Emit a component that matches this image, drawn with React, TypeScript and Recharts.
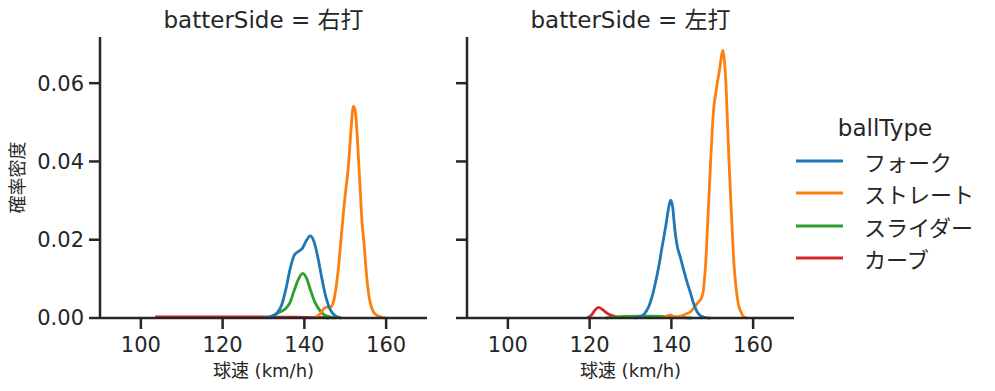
import React from "react";
import { Label, Line, LineChart, XAxis, YAxis } from "recharts";

// ball types in legend order, tab10 colours
const BALL_TYPES = ["フォーク", "ストレート", "スライダー", "カーブ"];
const COLORS = ["#1f77b4", "#ff7f0e", "#2ca02c", "#d62728"];

const X_TICKS = [100, 120, 140, 160];
const Y_TICKS = [0, 0.02, 0.04, 0.06];

type Pt = { speed: number; density: number };
const pts = (rows: number[][]): Pt[] => rows.map(([speed, density]) => ({ speed, density }));

// batterSide = 右打
const rightFork = pts([
  [130, 0.0001], [132, 0.0004], [133.5, 0.0015], [134.5, 0.0035], [135.5, 0.0075],
  [136.5, 0.0125], [137.5, 0.016], [138.5, 0.017], [139.5, 0.0178], [140.5, 0.0198],
  [141.4, 0.021], [142.3, 0.0197], [143.3, 0.0155], [144.3, 0.01], [145.3, 0.0052],
  [146.3, 0.0022], [147.5, 0.0006], [149, 0],
]);
const rightStraight = pts([
  [142.5, 0.0001], [143.8, 0.001], [144.8, 0.0024], [145.5, 0.0028], [146.2, 0.0026],
  [146.8, 0.0032], [147.4, 0.0055], [147.9, 0.0089], [148.4, 0.0135], [148.8, 0.0182],
  [149.3, 0.024], [149.7, 0.0285], [150.1, 0.0325], [150.5, 0.036], [150.9, 0.0405],
  [151.4, 0.048], [152.0, 0.0541], [152.5, 0.0525], [152.9, 0.047], [153.3, 0.0395],
  [153.7, 0.032], [154.1, 0.0245], [154.6, 0.019], [155.0, 0.0135], [155.4, 0.009],
  [155.9, 0.005], [156.5, 0.0025], [157.3, 0.001], [158.9, 0.0002], [160, 0],
]);
const rightSlider = pts([
  [132, 0.0005], [134, 0.0015], [135.5, 0.0025], [136.5, 0.004], [137.5, 0.007],
  [138.5, 0.0098], [139.6, 0.0114], [140.6, 0.01], [141.6, 0.0068], [142.6, 0.004],
  [143.6, 0.0022], [144.6, 0.001], [145.8, 0.0004], [147.5, 0],
]);
const rightCurve = pts([
  [103.5, 0.0003], [110, 0.0003], [120, 0.0003], [130, 0.0003], [138, 0.0002],
  [145, 0.0001], [146, 0],
]);

// batterSide = 左打
const leftFork = pts([
  [131, 0], [132.5, 0.0004], [133.5, 0.0012], [134.5, 0.003], [135.3, 0.0055],
  [136.1, 0.009], [136.9, 0.0131], [137.7, 0.018], [138.6, 0.0233], [139.3, 0.028],
  [139.8, 0.0301], [140.3, 0.0285], [140.8, 0.023], [141.4, 0.0185], [142.2, 0.0155],
  [143.0, 0.0123], [143.8, 0.0093], [144.7, 0.0063], [145.5, 0.0035], [146.3, 0.0016],
  [147.2, 0.0005], [148.4, 0.0001], [149.5, 0],
]);
const leftStraight = pts([
  [137.5, 0], [138.5, 0.0003], [139.3, 0.0007], [139.8, 0.0008], [140.4, 0.0004],
  [141.3, 0.0003], [142.3, 0.0005], [143.5, 0.001], [144.7, 0.0016], [145.8, 0.003],
  [146.7, 0.0042], [147.3, 0.005], [147.8, 0.0068], [148.1, 0.01], [148.4, 0.014],
  [148.8, 0.0225], [149.2, 0.031], [149.6, 0.04], [150.0, 0.048], [150.4, 0.054],
  [150.8, 0.057], [151.2, 0.0599], [151.8, 0.0635], [152.3, 0.0672], [152.6, 0.0684],
  [152.9, 0.0665], [153.3, 0.0608], [153.8, 0.048], [154.1, 0.04], [154.5, 0.031],
  [154.9, 0.022], [155.3, 0.014], [155.7, 0.009], [156.1, 0.0054], [156.5, 0.003],
  [157.0, 0.0016], [157.7, 0.0003], [158.5, 0],
]);
const leftSlider = pts([
  [124, 0], [126, 0.0002], [129, 0.0004], [132, 0.0005], [135, 0.0005],
  [138, 0.0004], [141, 0.0003], [143, 0.0001], [145, 0],
]);
const leftCurve = pts([
  [119.5, 0.0001], [120.5, 0.0008], [121.3, 0.002], [122.2, 0.0027], [123.2, 0.0021],
  [124.3, 0.0012], [125.5, 0.0006], [126.5, 0.0003], [127.5, 0],
]);

const FONT = "'DejaVu Sans', 'Noto Sans CJK JP', sans-serif";
const CJK = "'Noto Sans CJK JP', sans-serif";
const INK = "#262626";
const tickStyle = { fontSize: 21, fill: INK, fontFamily: FONT };

const YLabel = ({ viewBox }: any) => {
  const cx = 16;
  const cy = viewBox.y + viewBox.height / 2;
  return (
    <text
      x={cx}
      y={cy}
      transform={`rotate(-90 ${cx} ${cy})`}
      textAnchor="middle"
      dominantBaseline="central"
      fontSize={18}
      fill={INK}
      fontFamily={CJK}
    >
      確率密度
    </text>
  );
};

const XLabel = ({ viewBox }: any) => (
  <text
    x={viewBox.x + viewBox.width / 2}
    y={377}
    textAnchor="middle"
    fontSize={18}
    fill={INK}
    fontFamily={FONT}
  >
    球速 (km/h)
  </text>
);

type FacetProps = {
  title: string;
  series: Pt[][];
  left: number;
  width: number;
  yWidth: number;
  showYLabels: boolean;
};

function Facet({ title, series, left, width, yWidth, showYLabels }: FacetProps) {
  // seaborn draws hues in reverse order, so フォーク ends up on top
  const order = [3, 2, 1, 0];
  return (
    <div style={{ position: "absolute", left, top: 0 }}>
      <div
        style={{
          position: "absolute",
          left: yWidth,
          width: width - yWidth - 13,
          top: 5,
          textAlign: "center",
          fontSize: 23,
          fontFamily: FONT,
          color: INK,
          lineHeight: "30px",
          whiteSpace: "nowrap",
        }}
      >
        {title}
      </div>
      <LineChart width={width} height={391} margin={{ top: 37, right: 13, bottom: 13, left: 0 }}>
        <XAxis
          dataKey="speed"
          type="number"
          domain={[90, 170]}
          ticks={X_TICKS}
          allowDuplicatedCategory={false}
          height={60}
          tickSize={11}
          tickMargin={8}
          tick={tickStyle}
          stroke={INK}
          strokeWidth={2.5}
        >
          <Label content={<XLabel />} />
        </XAxis>
        <YAxis
          type="number"
          domain={[0, 0.0718]}
          ticks={Y_TICKS}
          width={yWidth}
          tickSize={11}
          tickMargin={5}
          tick={tickStyle}
          tickFormatter={(v: number) => (showYLabels ? v.toFixed(2) : "")}
          stroke={INK}
          strokeWidth={2.5}
          label={showYLabels ? <YLabel /> : undefined}
        />
        {order.map((i) => (
          <Line
            key={BALL_TYPES[i]}
            data={series[i]}
            dataKey="density"
            name={BALL_TYPES[i]}
            type="monotone"
            stroke={COLORS[i]}
            strokeWidth={2.8}
            dot={false}
            isAnimationActive={false}
          />
        ))}
      </LineChart>
    </div>
  );
}

function Legend() {
  return (
    <div style={{ position: "absolute", left: 790, top: 112, width: 200, color: INK }}>
      <div style={{ textAlign: "center", fontSize: 23, lineHeight: "33px", marginLeft: -10, fontFamily: FONT }}>
        ballType
      </div>
      {BALL_TYPES.map((name, i) => (
        <div key={name} style={{ display: "flex", alignItems: "center", height: 32.3 }}>
          <svg width={74} height={10} style={{ flex: "none" }}>
            <line x1={6} y1={5} x2={53} y2={5} stroke={COLORS[i]} strokeWidth={3} />
          </svg>
          <span style={{ fontSize: 22, lineHeight: "30px", whiteSpace: "nowrap", fontFamily: CJK }}>{name}</span>
        </div>
      ))}
    </div>
  );
}

export default function App() {
  return (
    <div style={{ position: "absolute", left: 0, top: 0, width: 995, height: 391, background: "#fff" }}>
      <Facet
        title="batterSide = 右打"
        series={[rightFork, rightStraight, rightSlider, rightCurve]}
        left={0}
        width={440}
        yWidth={100}
        showYLabels
      />
      <Facet
        title="batterSide = 左打"
        series={[leftFork, leftStraight, leftSlider, leftCurve]}
        left={440}
        width={367}
        yWidth={27}
        showYLabels={false}
      />
      <Legend />
    </div>
  );
}
